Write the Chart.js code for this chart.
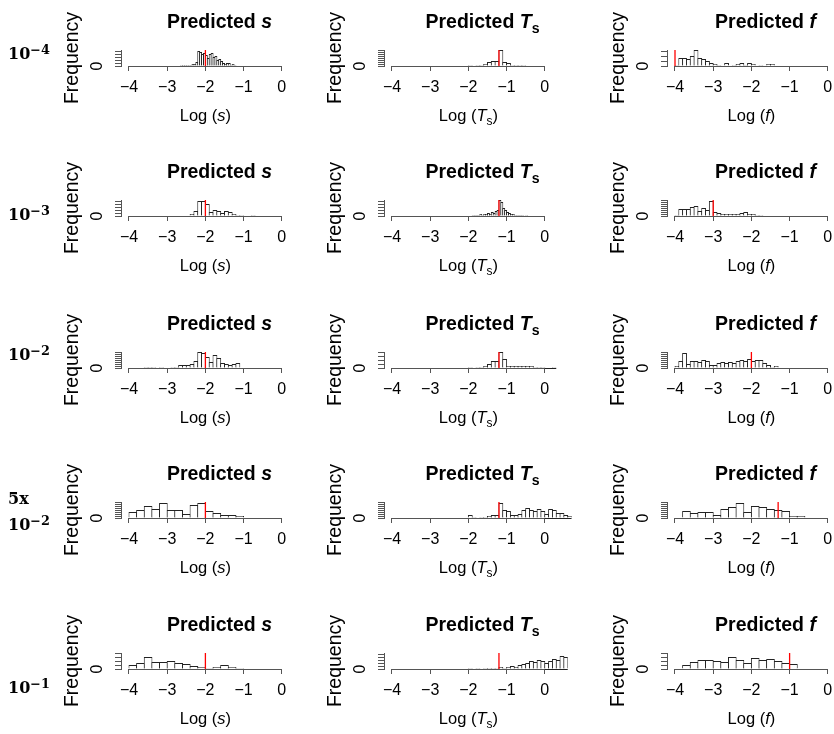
<!DOCTYPE html>
<html>
<head>
<meta charset="utf-8">
<script src="https://cdn.jsdelivr.net/npm/chart.js@4"></script>
<style>
  body { margin: 0; background: #fff; }
  #wrap { position: relative; width: 834px; height: 734px; overflow: hidden;
          font-family: "Liberation Sans", Arial, sans-serif; color: #000; }
  canvas { position: absolute; }
  .ttl { position: absolute; font-weight: bold; font-size: 19.5px; line-height: 1;
         transform: translate(-50%, -50%); white-space: nowrap; }
  .xl  { position: absolute; font-size: 16.5px; line-height: 1;
         transform: translate(-50%, -50%); white-space: nowrap; }
  .rl  { position: absolute; font-family: "DejaVu Serif", serif; font-weight: bold;
         font-size: 16px; line-height: 26px; white-space: nowrap; transform: translateY(-50%); }
  .rl sup { font-size: 0.8em; vertical-align: 0.4em; line-height: 0; }
  sub { font-size: 0.72em; vertical-align: -0.35em; line-height: 0; }
</style>
</head>
<body>
<div id="wrap"></div>
<script>
// ---- data (log10 scale) ----
const rowLabels = ['10<sup>\u22124</sup>', '10<sup>\u22123</sup>', '10<sup>\u22122</sup>',
                   '5x<br>10<sup>\u22122</sup>', '10<sup>\u22121</sup>'];

// true values (red lines)
const trueS  = [-2, -2, -2, -2, -2];
const trueTs = [-1.2, -1.2, -1.2, -1.2, -1.2];
const trueF  = [-4, -3, -2, -1.3, -1];

// predicted s: first break, bin width, counts per row
const sStart = [-2.65, -2.4, -3.6, -4.0, -4.0];
const sWidth = [0.05, 0.1, 0.1, 0.2, 0.2];
const sRow1 = [1,1,1,1,1,1,2,2,4,15,14,12,13,11,8,12,13,9,10,6,7,5,3,2,3,3,1,2,1];
const sRow2 = [2,5,15,15,12,4,6,5,3,5,4,2,1,1,0,0,1];
const sRow3 = [1,1,1,0,1,0,0,1,1,3,3,3,4,7,16,15,11,6,13,10,5,4,3,4,5];
const sRow4 = [6,8,12,9,15,8,8,4,13,15,7,5,3,3,2];
const sRow5 = [4,6,12,7,7,8,6,5,3,2,1,2,4,2,1];
const sStep = [3, 3, 2, 2, 4];

// predicted Ts
const tsStart = [-2.0, -1.9, -2.0, -2.0, -2.0];
const tsWidth = [0.1, 0.05, 0.1, 0.1, 0.1];
const tsRow1 = [1,0,1,1,2,4,5,5,16,4,3,1,1,1,1];
const tsRow2 = [1,1,1,1,2,1,2,2,3,2,4,3,5,6,16,14,8,6,4,3,2,2,1,1,1,1,1,0,1];
const tsRow3 = [1,0,1,1,2,4,7,7,16,9,2,2,2,2,2,2,2,1,1,1,0,0,1];
const tsRow4 = [3,1,0,1,1,2,3,3,15,8,7,3,3,4,8,10,8,7,9,7,4,9,8,5,5,3,2];
const tsRow5 = [1,0,1,0,1,1,1,1,2,1,2,3,2,4,5,6,8,7,9,8,6,8,10,9,13,12];
const tsStep = [2, 3, 4, 2, 3];

// predicted f
const fStart = [-4.0, -4.0, -4.0, -3.8, -3.8];
const fWidth = [0.1, 0.1, 0.1, 0.2, 0.2];
const fRow1 = [1,8,8,7,10,16,8,7,5,3,2,1,0,3,0,1,2,3,1,3,2,0,1,0,2,2];
const fRow2 = [1,7,7,7,9,10,5,8,6,15,4,3,2,2,2,2,2,3,4,2,2,1,1];
const fRow3 = [2,7,15,4,7,7,6,8,7,3,3,5,6,5,6,5,7,8,7,9,7,8,8,5,3,1,2];
const fRow4 = [7,5,6,6,3,9,11,15,6,12,11,9,8,7,2,2];
const fRow5 = [4,7,9,9,8,7,12,9,6,11,9,10,8,6,5];
const fStep = [5, 2, 2, 2, 4];

const xTicks = [-4, -3, -2, -1, 0];

// ---- layout ----
const U = 38.2;                 // px per log unit
const H = 16;                   // plot height (px == count units)
const colX0 = [129, 392, 675];  // pixel of x = -4 in each column
const rowBase = [66, 216, 368, 518, 669];

const titles = ['Predicted <i>s</i>', 'Predicted <i>T</i><sub>s</sub>', 'Predicted <i>f</i>'];
const xlabs  = ['Log (<i>s</i>)', 'Log (<i>T</i><sub>s</sub>)', 'Log (<i>f</i>)'];
const rowLabelY = [54, 215, 355, 512, 688];

const wrap = document.getElementById('wrap');
Chart.defaults.font.family = '"Liberation Sans", Arial, sans-serif';
Chart.defaults.color = '#000';

const fmt = v => v < 0 ? '\u2212' + (-v) : String(v);

// R-style axis line (only -4..0), bar baseline and rotated "0"
const rAxis = {
  id: 'rAxis',
  afterDatasetsDraw(chart, args, o) {
    const {ctx, scales: {x, y}} = chart;
    const yb = Math.round(y.getPixelForValue(0)) + 0.5;
    ctx.save();
    ctx.lineWidth = 1;
    ctx.strokeStyle = '#222';
    ctx.beginPath();
    ctx.moveTo(x.getPixelForValue(o.from), yb);
    ctx.lineTo(x.getPixelForValue(o.to), yb);
    ctx.stroke();
    ctx.strokeStyle = '#555';
    ctx.beginPath();
    ctx.moveTo(x.getPixelForValue(xTicks[0]), yb);
    ctx.lineTo(x.getPixelForValue(xTicks[xTicks.length - 1]), yb);
    ctx.stroke();
    ctx.translate(x.getPixelForValue(xTicks[0]) - 31, y.getPixelForValue(0));
    ctx.rotate(-Math.PI / 2);
    ctx.font = '16px "Liberation Sans", Arial, sans-serif';
    ctx.fillStyle = '#000';
    ctx.textAlign = 'center';
    ctx.textBaseline = 'middle';
    ctx.fillText('0', 0, 0);
    ctx.restore();
  }
};

function addText(cls, html, x, y) {
  const d = document.createElement('div');
  d.className = cls;
  d.innerHTML = html;
  d.style.left = x + 'px';
  d.style.top = y + 'px';
  wrap.appendChild(d);
}

function panel(c, r, start, w, counts, truth, step) {
  const end = start + counts.length * w;
  const xMax = Math.max(0, end);
  const x0 = colX0[c], base = rowBase[r];
  const areaRight = 80 + (xMax + 4) * U;
  const cv = document.createElement('canvas');
  cv.width = Math.ceil(areaRight + 22);
  cv.height = 115;
  cv.style.left = (x0 - 80) + 'px';
  cv.style.top = (base - 70) + 'px';
  wrap.appendChild(cv);

  const bins = counts.map((n, i) => ({x: start + (i + 0.5) * w, y: n}));

  new Chart(cv, {
    type: 'bar',
    data: {
      datasets: [
        { type: 'line', data: [{x: truth, y: 0}, {x: truth, y: H}],
          borderColor: '#ff0000', borderWidth: 1.3, pointRadius: 0 },
        { data: bins, backgroundColor: '#fff', borderColor: '#222', borderWidth: 1,
          barPercentage: 1 + 1 / (w * U), categoryPercentage: 1 }
      ]
    },
    options: {
      responsive: false, animation: false, devicePixelRatio: 1, events: [],
      layout: { padding: { left: 0, top: 70 - H, right: cv.width - areaRight, bottom: 0 } },
      plugins: { legend: { display: false }, tooltip: { enabled: false },
                 rAxis: { from: start, to: end } },
      scales: {
        x: {
          type: 'linear', min: -4 - 8 / U, max: xMax, offset: false,
          afterFit: s => { s.height = 45; },
          border: { display: false },
          grid: { offset: false, drawOnChartArea: false, tickLength: 5, color: '#555' },
          ticks: { stepSize: 1, includeBounds: false, autoSkip: false, maxRotation: 0,
                   padding: 7, color: '#000', font: { size: 16 }, callback: fmt }
        },
        y: {
          min: 0, max: H,
          afterFit: s => { s.width = 72; },
          border: { display: true, color: '#555' },
          grid: { drawOnChartArea: false, tickLength: 6, color: '#555' },
          ticks: { display: false, stepSize: step, includeBounds: false },
          title: { display: true, text: 'Frequency', color: '#000',
                   font: { size: 19.5 }, padding: { top: 12, bottom: 0 } }
        }
      }
    },
    plugins: [rAxis]
  });

  addText('ttl', titles[c], x0 + 90.5, base - 44);
  addText('xl', xlabs[c], x0 + 76.4, base + 49);
}

const sRows = [sRow1, sRow2, sRow3, sRow4, sRow5];
const tsRows = [tsRow1, tsRow2, tsRow3, tsRow4, tsRow5];
const fRows = [fRow1, fRow2, fRow3, fRow4, fRow5];

for (let r = 0; r < 5; r++) {
  panel(0, r, sStart[r], sWidth[r], sRows[r], trueS[r], sStep[r]);
  panel(1, r, tsStart[r], tsWidth[r], tsRows[r], trueTs[r], tsStep[r]);
  panel(2, r, fStart[r], fWidth[r], fRows[r], trueF[r], fStep[r]);
  addText('rl', rowLabels[r], 8, rowLabelY[r]);
}
</script>
</body>
</html>
